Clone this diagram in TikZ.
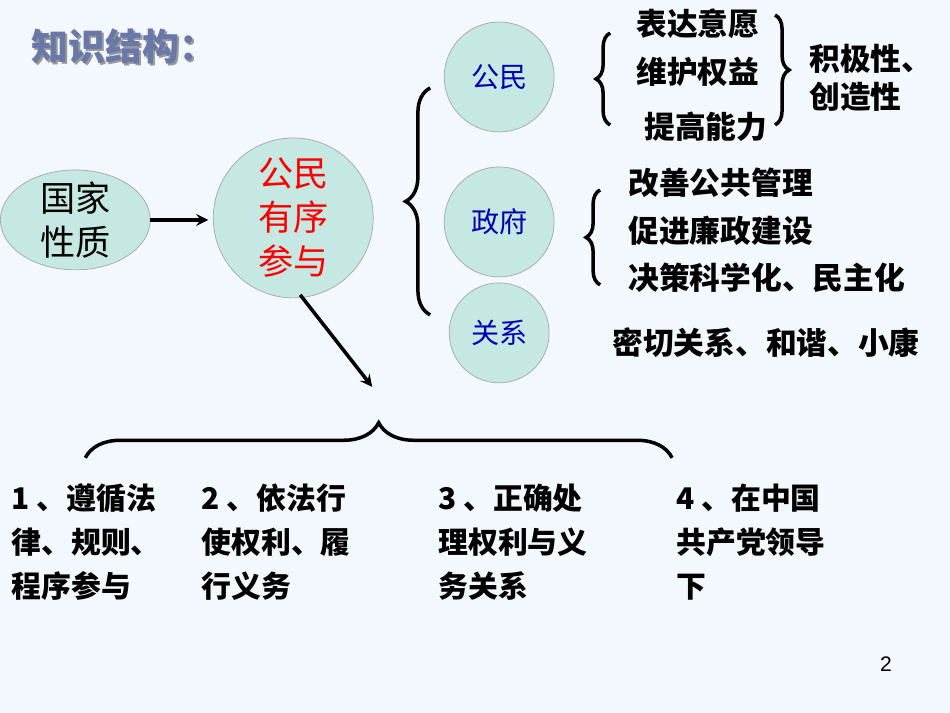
\documentclass[tikz,border=0pt]{standalone}
\usepackage{fontspec}
\setmainfont{Liberation Sans}
\newfontfamily\cjk{Noto Sans CJK SC}
\usetikzlibrary{decorations.pathreplacing}
\definecolor{bgblue}{HTML}{F2F8FE}
\definecolor{ballfill}{HTML}{C6E8E2}
\definecolor{titleblue}{HTML}{6A78A8}
\begin{document}
\begin{tikzpicture}[x=0.02cm,y=-0.02cm,
		ball/.style={draw=gray!70, fill=ballfill},
		lbl/.style={font=\cjk\fontsize{17.5}{22}\selectfont\bfseries, align=left, anchor=west},
		item/.style={font=\cjk\fontsize{17}{25}\selectfont\bfseries, align=left, anchor=north west},
		br/.style={decorate, decoration={brace, amplitude=#1}, line width=2pt},
		a/.style={->, line width=2pt, >=stealth},
	]
		\fill[bgblue] (0,0) rectangle (950,713);
		\node[font=\cjk\fontsize{21}{26}\selectfont\bfseries, text=black!40, anchor=west] at (27,48) {知识结构：};
		\node[font=\cjk\fontsize{21}{26}\selectfont\bfseries, text=titleblue, anchor=west] (Title) at (25,46) {知识结构：};

		\draw[ball] (75,220) ellipse (75 and 50);
		\node[font=\cjk\fontsize{20}{25}\selectfont, align=center] (Nature) at (75,220) {国家\\性质};
		\draw[ball] (293,218) circle (80);
		\node[font=\cjk\fontsize{20}{25}\selectfont, text=red, align=center] (Part) at (293,218) {公民\\有序\\参与};
		\draw[ball] (499,77) circle (55);
		\node[font=\cjk\fontsize{16}{20}\selectfont, text=blue!70!black] (Cit) at (499,77) {公民};
		\draw[ball] (499,222) circle (55);
		\node[font=\cjk\fontsize{16}{20}\selectfont, text=blue!70!black] (Gov) at (499,222) {政府};
		\draw[ball] (499,333) circle (50);
		\node[font=\cjk\fontsize{16}{20}\selectfont, text=blue!70!black] (Rel) at (499,333) {关系};

		\coordinate (PartOut) at (300,295);
		\coordinate (BraceTip) at (372,387);
		\draw[a] (150,220) -- (208,220);
		\draw[a] (PartOut) -- (BraceTip);

		\draw[br=14pt] (430,315) -- (430,88);
		\draw[br=8pt] (610,125) -- (610,33);
		\draw[br=8pt] (775,15) -- (775,125);
		\draw[br=8pt] (600,285) -- (600,190);
		\draw[br=20pt] (85,458) -- (672,458);

		\node[lbl] (C1) at (630,24) {表达意愿};
		\node[lbl] (C2) at (630,72) {维护权益};
		\node[lbl] (C3) at (638,127) {提高能力};
		\node[lbl] (C4) at (803,78) {积极性、\\创造性};
		\node[lbl] (G1) at (622,183) {改善公共管理};
		\node[lbl] (G2) at (622,231) {促进廉政建设};
		\node[lbl] (G3) at (622,278) {决策科学化、民主化};
		\node[lbl] (R1) at (606,343) {密切关系、和谐、小康};

		\node[item] (B1) at (5,478) {1 、遵循法\\律、规则、\\程序参与};
		\node[item] (B2) at (195,478) {2 、依法行\\使权利、履\\行义务};
		\node[item] (B3) at (432,478) {3 、正确处\\理权利与义\\务关系};
		\node[item] (B4) at (670,478) {4 、在中国\\共产党领导\\下};
		\node[font=\fontsize{12}{14}\selectfont] (Page) at (886,664) {2};
	\end{tikzpicture}
\end{document}
